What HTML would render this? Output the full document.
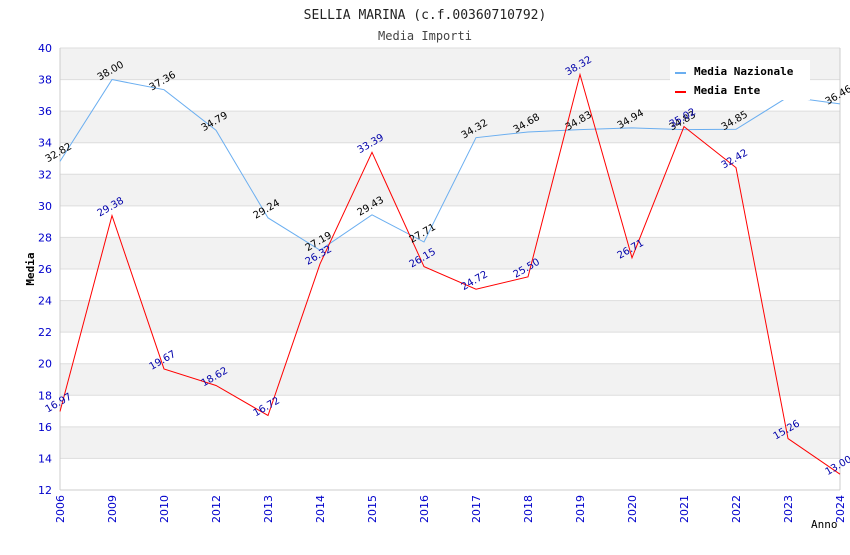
<!DOCTYPE html>
<html><head><meta charset="utf-8"><style>
body{margin:0;background:#fff;}
svg text{font-family:"DejaVu Sans","Liberation Sans",sans-serif;}
.mono{font-family:"DejaVu Sans Mono","Liberation Mono",monospace;}
</style></head><body>
<svg id="c" width="850" height="550" xmlns="http://www.w3.org/2000/svg">
<text class="mono" x="425" y="19" text-anchor="middle" font-size="13" fill="#222">SELLIA MARINA (c.f.00360710792)</text>
<text class="mono" x="425" y="40" text-anchor="middle" font-size="12" fill="#444">Media Importi</text>
<g id="grid"></g><g id="axes"></g><g id="series"></g><g id="labels"></g>
<g>
<rect x="670" y="60" width="140" height="40" fill="#fff"/>
<line x1="675" y1="73" x2="686" y2="73" stroke="#6aaef0" stroke-width="2"/>
<text class="mono" x="694" y="75" font-size="11" font-weight="bold" fill="#000">Media Nazionale</text>
<line x1="675" y1="92" x2="686" y2="92" stroke="#f00" stroke-width="2"/>
<text class="mono" x="694" y="94" font-size="11" font-weight="bold" fill="#000">Media Ente</text>
</g>
</svg>
<script>
const categories=["2006","2009","2010","2012","2013","2014","2015","2016","2017","2018","2019","2020","2021","2022","2023","2024"];
const nazionale=[32.82,38.00,37.36,34.79,29.24,27.19,29.43,27.71,34.32,34.68,34.83,34.94,34.83,34.85,36.9,36.46];
const ente=[16.97,29.38,19.67,18.62,16.72,26.32,33.39,26.15,24.72,25.50,38.32,26.71,35.02,32.42,15.26,13.00];
const yTicks=[12,14,16,18,20,22,24,26,28,30,32,34,36,38,40];
const NS="http://www.w3.org/2000/svg";
const L=60,R=840,T=48,B=490,yMin=12,yMax=40;
const xs=i=>L+i*(R-L)/(categories.length-1);
const ys=v=>B-(v-yMin)/(yMax-yMin)*(B-T);
function mk(t,a,p){const e=document.createElementNS(NS,t);for(const k in a)e.setAttribute(k,a[k]);p.appendChild(e);return e;}
const grid=document.getElementById('grid'),axes=document.getElementById('axes'),ser=document.getElementById('series'),lab=document.getElementById('labels');
for(let i=0;i<yTicks.length-1;i++){
  if(i%2===1){const r=mk('rect',{x:L,y:ys(yTicks[i+1]),width:R-L,height:ys(yTicks[i])-ys(yTicks[i+1]),fill:'#f2f2f2'},grid);
  
  }
}
yTicks.forEach(v=>{
  const l=mk('line',{x1:L,x2:R,y1:ys(v),y2:ys(v),stroke:'#ddd'},grid);
  
  
  const t=mk('text',{x:L-8,y:ys(v)+4,'text-anchor':'end','font-size':11,fill:'#00c'},axes);
  t.textContent=v;
  
  
});
mk('line',{x1:L,x2:L,y1:T,y2:B,stroke:'#ccc'},axes);
mk('line',{x1:R,x2:R,y1:T,y2:B,stroke:'#ccc'},axes);
mk('line',{x1:L,x2:R,y1:B,y2:B,stroke:'#ccc'},axes);
categories.forEach((c,i)=>{
  const t=mk('text',{x:0,y:0,'text-anchor':'end','font-size':11,fill:'#00c',transform:`translate(${xs(i)+4},${B+5}) rotate(-90)`},axes);
  t.textContent=c;
  
  
});
const yt=mk('text',{x:0,y:0,'text-anchor':'middle','font-size':11,'font-weight':'bold',fill:'#000',class:'mono',transform:`translate(34,269) rotate(-90)`},axes);
yt.textContent='Media';


const xt=mk('text',{x:811,y:528,'font-size':11,fill:'#000',class:'mono'},axes);
xt.textContent='Anno';


function series(vals,color,name,lc){
  const p=mk('polyline',{points:vals.map((v,i)=>xs(i)+','+ys(v)).join(' '),fill:'none',stroke:color,'stroke-width':1},ser);
  
  
  vals.forEach((v,i)=>{
    const t=mk('text',{x:0,y:0,'text-anchor':'middle','font-size':10,fill:lc,transform:`translate(${xs(i)},${ys(v)-6}) rotate(-30)`},lab);
    t.textContent=v.toFixed(2);
    
    
  });
}
series(nazionale,'#6aaef0','nazionale','#000');
series(ente,'#f00','ente','#00a');
</script>
</body></html>
